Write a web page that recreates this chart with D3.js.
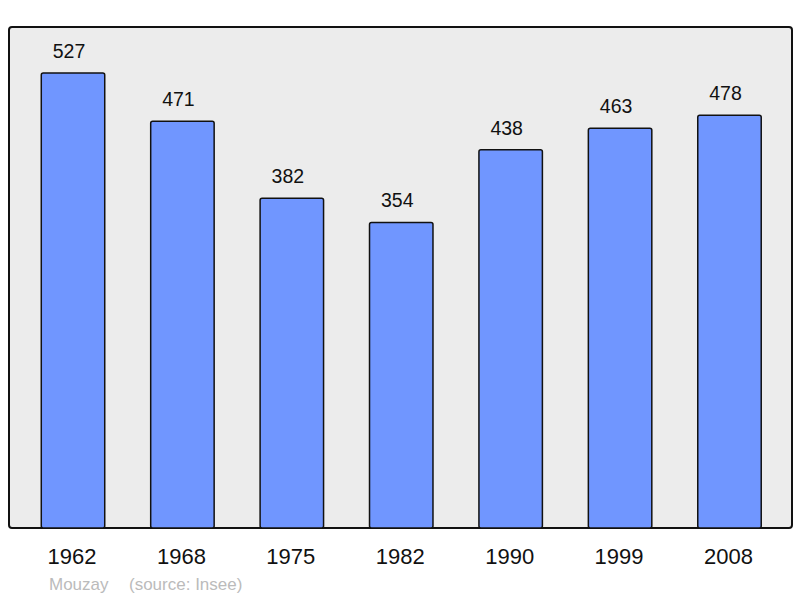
<!DOCTYPE html>
<html>
<head>
<meta charset="utf-8">
<title>Mouzay population</title>
<script src="https://d3js.org/d3.v7.min.js"></script>
<style>
  body { margin: 0; background: #fff; }
  svg { display: block; font-family: "Liberation Sans", Arial, sans-serif; }
</style>
</head>
<body>
<svg></svg>
<script>
// data
var years = ["1962", "1968", "1975", "1982", "1990", "1999", "2008"];
var population = [527, 471, 382, 354, 438, 463, 478];
var town = "Mouzay";
var source = "(source: Insee)";

var width = 800, height = 598;
var plot = { left: 9, top: 27, right: 792, bottom: 528 };

var svg = d3.select("svg")
  .attr("width", width)
  .attr("height", height);

// frame
svg.append("rect")
  .attr("x", plot.left)
  .attr("y", plot.top)
  .attr("width", plot.right - plot.left)
  .attr("height", plot.bottom - plot.top)
  .attr("rx", 3)
  .style("fill", "#ececec")
  .style("stroke", "#111")
  .style("stroke-width", 2);

var x = d3.scaleBand()
  .domain(years)
  .range([18.3, 784.2])
  .paddingInner(0.42)
  .paddingOuter(0.21);

var y = d3.scaleLinear()
  .domain([0, 580.3])
  .range([plot.bottom, plot.top]);

var data = years.map(function(yr, i) { return { year: yr, value: population[i] }; });

var bars = svg.append("g").selectAll("g")
  .data(data)
  .enter().append("g");

bars.append("rect")
  .attr("x", function(d) { return x(d.year); })
  .attr("y", function(d) { return y(d.value); })
  .attr("width", x.bandwidth())
  .attr("height", function(d) { return plot.bottom - y(d.value); })
  .attr("rx", 2)
  .style("fill", "#7096ff")
  .style("stroke", "#111")
  .style("stroke-width", 1.5);

// value labels sit a little left of bar centre in the original
bars.append("text")
  .attr("x", function(d) { return x(d.year) + x.bandwidth() / 2 - 4; })
  .attr("y", function(d) { return y(d.value) - 15; })
  .attr("text-anchor", "middle")
  .style("font-size", "19.5px")
  .style("fill", "#111")
  .text(function(d) { return d.value; });

// year labels along the bottom
svg.append("g").selectAll("text")
  .data(years)
  .enter().append("text")
  .attr("x", function(d) { return x(d) + x.bandwidth() / 2 - 1; })
  .attr("y", 564)
  .attr("text-anchor", "middle")
  .style("font-size", "22px")
  .style("fill", "#111")
  .text(function(d) { return d; });

svg.append("text")
  .attr("x", 49)
  .attr("y", 590)
  .style("font-size", "17px")
  .style("fill", "#bbb")
  .text(town);

svg.append("text")
  .attr("x", 129)
  .attr("y", 590)
  .style("font-size", "17px")
  .style("fill", "#bbb")
  .text(source);
</script>
</body>
</html>
